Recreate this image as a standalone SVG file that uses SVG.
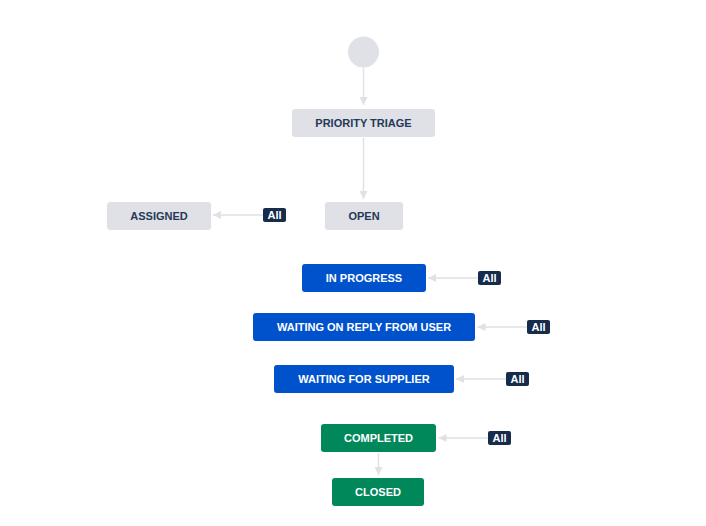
<svg xmlns="http://www.w3.org/2000/svg" width="706" height="526" viewBox="0 0 706 526">
<defs>
<marker id="ah" viewBox="0 0 10 10" refX="10" refY="5" markerWidth="8" markerHeight="8" markerUnits="userSpaceOnUse" orient="auto">
<path d="M0,0 L10,5 L0,10 Z" fill="#dfe1e6"/>
</marker>
<style>
.conn{stroke:#dfe1e6;stroke-width:1.5;fill:none;marker-end:url(#ah)}
.gray rect{fill:#dfe1e6}
.blue rect{fill:#0052cc}
.green rect{fill:#00875a}
text{font-family:"Liberation Sans",Arial,sans-serif;font-size:11px;font-weight:bold;text-anchor:middle;dominant-baseline:central}
.gray text{fill:#253858}
.blue text,.green text{fill:#ffffff}
.badge rect{fill:#172b4d}
.badge text{fill:#ffffff;font-size:11px}
</style>
</defs>
<rect width="706" height="526" fill="#ffffff"/>
<g id="connectors">
<line class="conn" x1="363.5" y1="68" x2="363.5" y2="105"/>
<line class="conn" x1="363.5" y1="138" x2="363.5" y2="199"/>
<line class="conn" x1="263" y1="215" x2="213" y2="215"/>
<line class="conn" x1="478" y1="278" x2="428" y2="278"/>
<line class="conn" x1="527" y1="327" x2="477.5" y2="327"/>
<line class="conn" x1="506" y1="379" x2="456" y2="379"/>
<line class="conn" x1="488" y1="438" x2="438.5" y2="438"/>
<line class="conn" x1="378.5" y1="453" x2="378.5" y2="475"/>
</g>
<g id="start"><circle cx="363.5" cy="52" r="15.5" fill="#dfe1e6"/></g>
<g id="priority-triage" class="gray"><rect x="292" y="109" width="143" height="28" rx="3"/><text x="363.5" y="123">PRIORITY TRIAGE</text></g>
<g id="open" class="gray"><rect x="325" y="202" width="78" height="28" rx="3"/><text x="364" y="216">OPEN</text></g>
<g id="assigned" class="gray"><rect x="107" y="202" width="104" height="28" rx="3"/><text x="159" y="216">ASSIGNED</text></g>
<g id="in-progress" class="blue"><rect x="302" y="264" width="124" height="28" rx="3"/><text x="364" y="278">IN PROGRESS</text></g>
<g id="waiting-reply" class="blue"><rect x="253" y="313" width="222" height="28" rx="3"/><text x="364" y="327">WAITING ON REPLY FROM USER</text></g>
<g id="waiting-supplier" class="blue"><rect x="274" y="365" width="180" height="28" rx="3"/><text x="364" y="379">WAITING FOR SUPPLIER</text></g>
<g id="completed" class="green"><rect x="321" y="424" width="115" height="28" rx="3"/><text x="378.5" y="438">COMPLETED</text></g>
<g id="closed" class="green"><rect x="332" y="478" width="92" height="28" rx="3"/><text x="378" y="492">CLOSED</text></g>
<g id="all-assigned" class="badge"><rect x="263" y="208" width="23" height="14" rx="2"/><text x="274.5" y="215">All</text></g>
<g id="all-in-progress" class="badge"><rect x="478" y="271" width="23" height="14" rx="2"/><text x="489.5" y="278">All</text></g>
<g id="all-waiting-reply" class="badge"><rect x="527" y="320" width="23" height="14" rx="2"/><text x="538.5" y="327">All</text></g>
<g id="all-waiting-supplier" class="badge"><rect x="506" y="372" width="23" height="14" rx="2"/><text x="517.5" y="379">All</text></g>
<g id="all-completed" class="badge"><rect x="488" y="431" width="23" height="14" rx="2"/><text x="499.5" y="438">All</text></g>
</svg>
